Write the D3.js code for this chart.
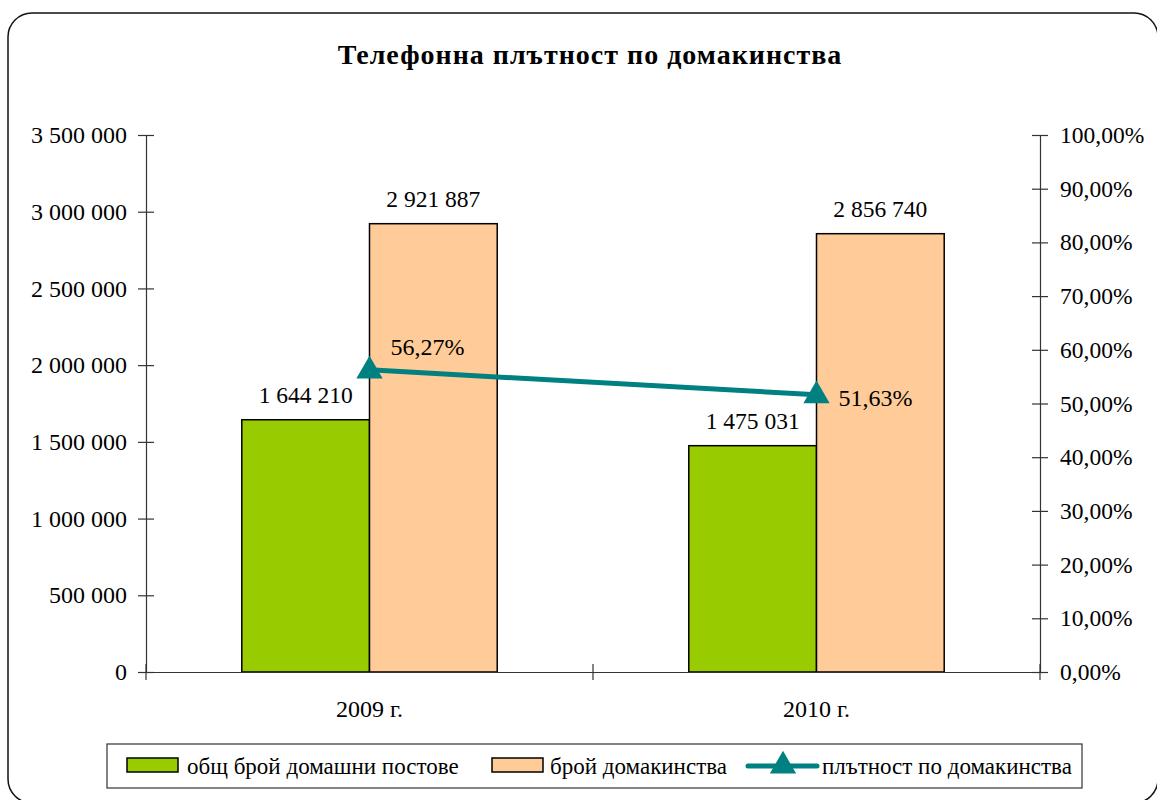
<!DOCTYPE html>
<html>
<head>
<meta charset="utf-8">
<script src="https://cdn.jsdelivr.net/npm/d3@7"></script>
<style>
  body { margin: 0; background: #fff; }
  svg { display: block; font-family: "Liberation Serif", "Times New Roman", serif; }
</style>
</head>
<body>
<svg id="chart" width="1157" height="800"></svg>
<script>
// ---- data ----
const categories = ["2009 г.", "2010 г."];
const totalLines = [1644210, 1475031];     // общ брой домашни постове
const households = [2921887, 2856740];     // брой домакинства
const density = [0.5627, 0.5163];          // плътност по домакинства
const leftTicks = [0, 500000, 1000000, 1500000, 2000000, 2500000, 3000000, 3500000];
const rightTicks = [0, 0.1, 0.2, 0.3, 0.4, 0.5, 0.6, 0.7, 0.8, 0.9, 1.0];
const seriesNames = ["общ брой домашни постове", "брой домакинства", "плътност по домакинства"];
const title = "Телефонна плътност по домакинства";

const bg = d3.formatLocale({ decimal: ",", thousands: " ", grouping: [3], currency: ["", ""] });
const fmtNum = bg.format(",d");
const fmtPct = bg.format(".2%");

const green = "#99CC00", peach = "#FFCC99", teal = "#008080";
const serif = "'Liberation Serif', 'Times New Roman', serif";

const svg = d3.select("#chart");

// outer frame
svg.append("rect")
    .attr("x", 8).attr("y", 13)
    .attr("width", 1150).attr("height", 790)
    .attr("rx", 24).attr("ry", 24)
    .attr("fill", "#fff").attr("stroke", "#111").attr("stroke-width", 1.5);

svg.append("text")
    .attr("x", 590).attr("y", 64)
    .attr("text-anchor", "middle")
    .attr("font-size", "28px").attr("font-weight", "bold")
    .attr("letter-spacing", "1px")
    .text(title);

/* scales */
const plotL = 146, plotR = 1040, plotT = 135, plotB = 672;

const x = d3.scaleBand().domain(categories).range([plotL, plotR]);
const xInner = d3.scaleBand().domain([0, 1]).range([0, x.bandwidth()])
    .paddingInner(0).paddingOuter(0.75);
const yL = d3.scaleLinear().domain([0, 3500000]).range([plotB, plotT]);
const yR = d3.scaleLinear().domain([0, 1]).range([plotB, plotT]);

/* bars */
const series = [totalLines, households];
const colors = [green, peach];

const g = svg.append("g");
categories.forEach((c, i) => {
    series.forEach((s, j) => {
        const bx = x(c) + xInner(j);
        g.append("rect")
            .attr("x", bx).attr("y", yL(s[i]))
            .attr("width", xInner.bandwidth())
            .attr("height", plotB - yL(s[i]))
            .attr("fill", colors[j])
            .attr("stroke", "#000").attr("stroke-width", 1.5);
        g.append("text")
            .attr("x", bx + xInner.bandwidth() / 2)
            .attr("y", yL(s[i]) - 17)
            .attr("text-anchor", "middle")
            .attr("font-size", "23.5px")
            .text(fmtNum(s[i]));
    });
});

/* axes */
const axisColor = "#333";
const leftAxis = svg.append("g")
    .attr("transform", `translate(${plotL},0)`)
    .call(d3.axisLeft(yL).tickValues(leftTicks).tickSize(8).tickSizeOuter(0)
        .tickPadding(11).tickFormat(fmtNum));
leftAxis.selectAll(".tick line").attr("x1", 8);

const rightAxis = svg.append("g")
    .attr("transform", `translate(${plotR},0)`)
    .call(d3.axisRight(yR).tickValues(rightTicks).tickSize(8).tickSizeOuter(0)
        .tickPadding(12).tickFormat(fmtPct));
rightAxis.selectAll(".tick line").attr("x1", -8);

const bottomAxis = svg.append("g")
    .attr("transform", `translate(0,${plotB})`)
    .call(d3.axisBottom(x).tickSize(0).tickSizeOuter(0).tickPadding(28));
// category separators
bottomAxis.selectAll(".sep")
    .data([plotL, (plotL + plotR) / 2, plotR])
    .enter().append("line")
    .attr("x1", d => d).attr("x2", d => d)
    .attr("y1", -8).attr("y2", 8)
    .attr("stroke", axisColor);

[leftAxis, rightAxis, bottomAxis].forEach(a => {
    a.attr("font-family", serif);
    a.selectAll("path, line").attr("stroke", axisColor).attr("stroke-width", 1.2);
    a.selectAll("text").attr("font-size", "24px").attr("fill", "#000")
        .attr("font-family", serif);
});
rightAxis.selectAll("text").attr("font-size", "23.5px");

/* density line */
const pts = categories.map((c, i) => [x(c) + x.bandwidth() / 2, yR(density[i])]);
svg.append("path")
    .attr("d", d3.line()(pts))
    .attr("fill", "none").attr("stroke", teal).attr("stroke-width", 5);

const tri = d3.symbol().type(d3.symbolTriangle).size(300);
svg.selectAll(".marker")
    .data(pts).enter().append("path")
    .attr("transform", d => `translate(${d[0]},${d[1] + 1})`)
    .attr("d", tri).attr("fill", teal);

const labelOffsets = [[21, -15], [22, 11]];
svg.selectAll(".plabel")
    .data(density).enter().append("text")
    .attr("x", (d, i) => pts[i][0] + labelOffsets[i][0])
    .attr("y", (d, i) => pts[i][1] + labelOffsets[i][1])
    .attr("font-size", "24px")
    .text(d => fmtPct(d));

/* legend */
const legend = svg.append("g");
legend.append("rect")
    .attr("x", 107).attr("y", 744).attr("width", 975).attr("height", 44)
    .attr("fill", "#fff").attr("stroke", "#333").attr("stroke-width", 1.2);

const legItems = [
    { type: "rect", color: green, x: 127, tx: 187 },
    { type: "rect", color: peach, x: 492, tx: 550 },
    { type: "line", color: teal, x: 748, tx: 822 }
];
legItems.forEach((d, i) => {
    if (d.type === "rect") {
        legend.append("rect")
            .attr("x", d.x).attr("y", 758).attr("width", 51).attr("height", 14)
            .attr("fill", d.color).attr("stroke", "#000").attr("stroke-width", 1.5);
    } else {
        legend.append("line")
            .attr("x1", d.x).attr("x2", d.x + 69).attr("y1", 766).attr("y2", 766)
            .attr("stroke", d.color).attr("stroke-width", 5).attr("stroke-linecap", "round");
        legend.append("path")
            .attr("transform", `translate(${d.x + 35},${766})`)
            .attr("d", tri).attr("fill", d.color);
    }
    legend.append("text")
        .attr("x", d.tx).attr("y", 774)
        .attr("font-size", "23px")
        .text(seriesNames[i]);
});
</script>
</body>
</html>
